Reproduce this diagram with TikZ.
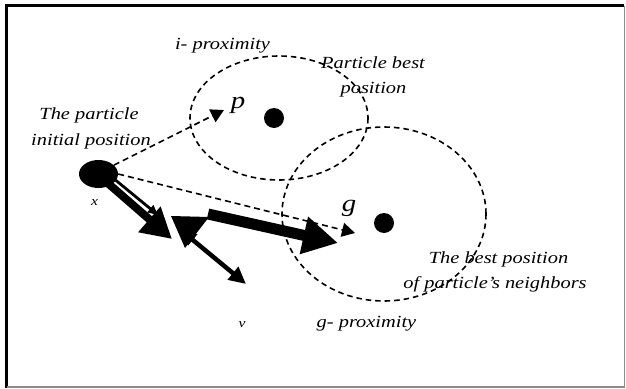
\documentclass[tikz,border=0pt]{standalone}
\usepackage{fontspec}
\setmainfont{Liberation Serif}[FakeStretch=1.2]
\usetikzlibrary{arrows.meta,shapes.geometric}
\begin{document}
\begin{tikzpicture}[x=1pt,y=-1pt,
  lbl/.style={font=\itshape\fontsize{17}{25}\selectfont, inner sep=0pt, anchor=base},
  tiny/.style={font=\itshape\fontsize{13}{15}\selectfont, inner sep=0pt, anchor=base},
  big/.style={font=\itshape\fontsize{24}{26}\selectfont, inner sep=0pt, anchor=base},
  zone/.style={draw, line width=1.6pt, dash pattern=on 5.5pt off 4pt},
  guide/.style={line width=1.6pt, dash pattern=on 6pt off 4pt, -{Triangle[length=13pt,width=14pt]}},
  dotnode/.style={circle, fill, minimum size=20pt, inner sep=0pt},
  ]
\useasboundingbox (0,0) rectangle (626,388);
% frame
\draw[line width=2.5pt] (6.5,388) -- (6.5,5.5) -- (624,5.5);
\draw[black!45, line width=1.2pt] (624.5,5.5) -- (624.5,387) -- (6.5,387);

% proximity zones
\draw[zone] (279,118) ellipse [x radius=89, y radius=62];
\draw[zone] (384,214) ellipse [x radius=102, y radius=87];

% particle and best positions
\node[ellipse, fill, minimum width=39pt, minimum height=28pt, inner sep=0pt] (part) at (98.5,174) {};
\node[dotnode] (pb) at (274,118) {};
\node[dotnode] (gb) at (384,223) {};

% dashed guides
\coordinate (ptip) at (224,110);
\coordinate (gtip) at (355,233);
\draw[guide] (part.30) -- (ptip);
\draw[guide] (part.0) -- (gtip);

% velocity vectors
\coordinate (a0) at (103,179);
\coordinate (a1) at (172,239);
\coordinate (b0) at (113,178);
\coordinate (b1) at (158,215);
\coordinate (d0) at (208,214);
\coordinate (d1) at (338,243);
\coordinate (e0) at (182,231);
\coordinate (e1) at (246,284);
\draw[line width=8pt, -{Triangle[length=30pt,width=32pt]}] (a0) -- (a1);
\draw[line width=2.8pt, -{Triangle[length=10pt,width=9pt]}] (b0) -- (b1);
\fill (171,216) -- (209,217) -- (185,248) -- cycle;
\draw[line width=11pt, -{Triangle[length=35pt,width=36pt]}] (d0) -- (d1);
\draw[line width=4.5pt, {Triangle[length=14pt,width=14pt]}-{Triangle[length=17pt,width=16pt]}] (e0) -- (e1);

% labels
\node[lbl] (ip) at (222.5,49) {i- proximity};
\node[lbl] (pbl1) at (373,68) {Particle best};
\node[lbl] (pbl2) at (373.5,93) {position};
\node[lbl] (tp1) at (89,119) {The particle};
\node[lbl] (tp2) at (91,145) {initial position};
\node[lbl] (bn1) at (498.5,263) {The best position};
\node[lbl] (bn2) at (495,288) {of particle’s neighbors};
\node[lbl] (gp) at (366.5,327) {g- proximity};
\node[big] (pl) at (238,108) {p};
\node[big] (gl) at (349,211) {g};
\node[tiny] (xl) at (94.5,205) {x};
\node[tiny] (vl) at (242,327) {v};
\end{tikzpicture}
\end{document}
